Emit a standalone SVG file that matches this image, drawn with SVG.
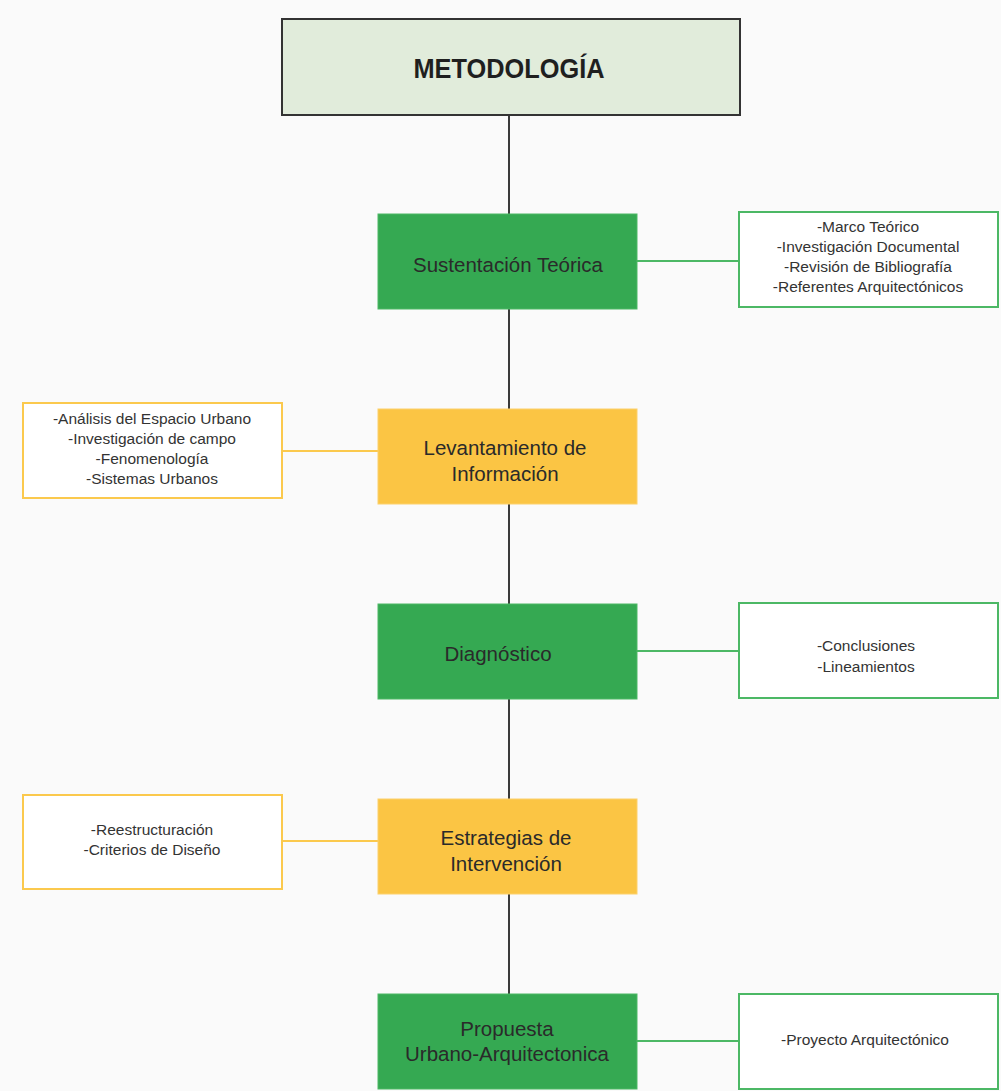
<svg xmlns="http://www.w3.org/2000/svg" width="1001" height="1091" viewBox="0 0 1001 1091">
<style>
.bg{fill:#fafafa}
.title{fill:#e1ecdb;stroke:#333;stroke-width:2}
.g{fill:#35a952;stroke:#4cb865;stroke-width:1}
.y{fill:#fbc544;stroke:#fcd06a;stroke-width:1}
.sg{fill:#fff;stroke:#4cb865;stroke-width:2}
.sy{fill:#fff;stroke:#fbc94d;stroke-width:2}
.main{font-family:"Liberation Sans",Arial,sans-serif;font-size:20.5px;fill:#2a2a2a;text-anchor:middle}
.side{font-family:"Liberation Sans",Arial,sans-serif;font-size:15.5px;fill:#333;text-anchor:middle}
.tt{font-family:"Liberation Sans",Arial,sans-serif;font-size:28px;font-weight:bold;fill:#1f1f1f;text-anchor:middle}
.spine{stroke:#3a3a3a;stroke-width:2;fill:none}
.cg{stroke:#4cb865;stroke-width:2;fill:none}
.cy{stroke:#fbc94d;stroke-width:2;fill:none}
</style>
<rect class="bg" x="0" y="0" width="1001" height="1091"/>
<g id="connectors">
<line class="spine" x1="509" y1="115" x2="509" y2="994"/>
<line class="cg" x1="637" y1="261" x2="739" y2="261"/>
<line class="cy" x1="282" y1="451" x2="378" y2="451"/>
<line class="cg" x1="637" y1="651" x2="739" y2="651"/>
<line class="cy" x1="282" y1="841" x2="378" y2="841"/>
<line class="cg" x1="637" y1="1041" x2="739" y2="1041"/>
</g>
<g id="metodologia">
<rect class="title" x="282" y="19" width="458" height="96"/>
<text class="tt" x="509" y="78" textLength="191" lengthAdjust="spacingAndGlyphs">METODOLOGÍA</text>
</g>
<g id="sustentacion">
<rect class="g" x="378" y="214" width="259" height="95"/>
<text class="main" x="508" y="272">Sustentación Teórica</text>
</g>
<g id="sustentacion-detalle">
<rect class="sg" x="739" y="212" width="259" height="95"/>
<text class="side" x="868" y="232">-Marco Teórico</text>
<text class="side" x="868" y="252">-Investigación Documental</text>
<text class="side" x="868" y="272">-Revisión de Bibliografía</text>
<text class="side" x="868" y="292">-Referentes Arquitectónicos</text>
</g>
<g id="levantamiento">
<rect class="y" x="378" y="409" width="259" height="95"/>
<text class="main" x="505" y="455">Levantamiento de</text>
<text class="main" x="505" y="481">Información</text>
</g>
<g id="levantamiento-detalle">
<rect class="sy" x="23" y="403" width="259" height="95"/>
<text class="side" x="152" y="424">-Análisis del Espacio Urbano</text>
<text class="side" x="152" y="444">-Investigación de campo</text>
<text class="side" x="152" y="464">-Fenomenología</text>
<text class="side" x="152" y="484">-Sistemas Urbanos</text>
</g>
<g id="diagnostico">
<rect class="g" x="378" y="604" width="259" height="95"/>
<text class="main" x="498" y="661">Diagnóstico</text>
</g>
<g id="diagnostico-detalle">
<rect class="sg" x="739" y="603" width="259" height="95"/>
<text class="side" x="866" y="651">-Conclusiones</text>
<text class="side" x="866" y="672">-Lineamientos</text>
</g>
<g id="estrategias">
<rect class="y" x="378" y="799" width="259" height="95"/>
<text class="main" x="506" y="845">Estrategias de</text>
<text class="main" x="506" y="871">Intervención</text>
</g>
<g id="estrategias-detalle">
<rect class="sy" x="23" y="795" width="259" height="94"/>
<text class="side" x="152" y="835">-Reestructuración</text>
<text class="side" x="152" y="855">-Criterios de Diseño</text>
</g>
<g id="propuesta">
<rect class="g" x="378" y="994" width="259" height="95"/>
<text class="main" x="507" y="1036">Propuesta</text>
<text class="main" x="507" y="1061">Urbano-Arquitectonica</text>
</g>
<g id="propuesta-detalle">
<rect class="sg" x="739" y="994" width="259" height="95"/>
<text class="side" x="865" y="1045">-Proyecto Arquitectónico</text>
</g>
</svg>
